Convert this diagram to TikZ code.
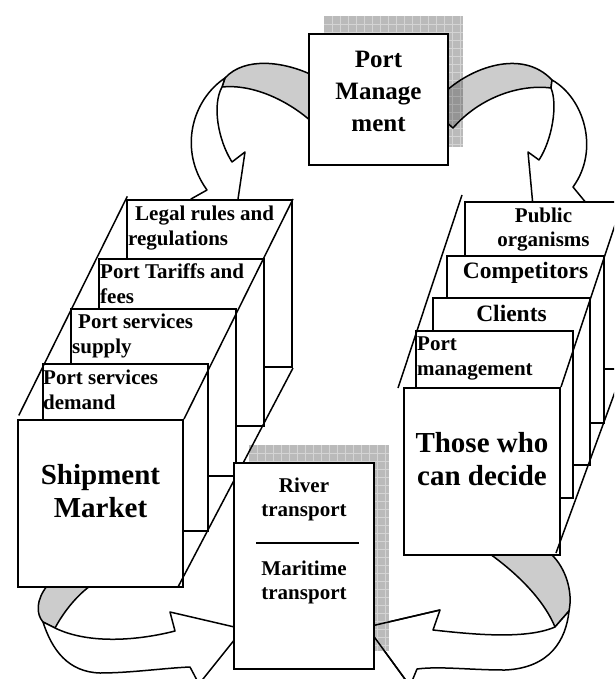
\documentclass[tikz,border=0pt]{standalone}
\usepackage{fontspec}
\setmainfont{Liberation Serif}
\usetikzlibrary{calc}

\newcommand*{\picw}{614}
\newcommand*{\pich}{679}

\newcommand*{\sheetfont}{\fontsize{21}{25}\selectfont\bfseries}
\newcommand*{\smallfont}{\fontsize{21}{24}\selectfont\bfseries}
\newcommand*{\midfont}{\fontsize{23.5}{28}\selectfont\bfseries}
\newcommand*{\pmfont}{\fontsize{25}{32}\selectfont\bfseries}
\newcommand*{\bigfont}{\fontsize{29}{33}\selectfont\bfseries}

\begin{document}
\begin{tikzpicture}
[
	x=1pt, y=-1pt,
	box/.style={draw, line width=2pt, fill=white, inner sep=0pt, anchor=north west},
	lsheet/.style={box, minimum width=165pt, minimum height=167pt},
	rsheet/.style={box, minimum width=157pt, minimum height=167pt},
	edge/.style={line width=1.5pt},
	ribbon/.style={draw, line width=1.5pt, fill=white, line join=round},
	band/.style={ribbon, fill=black!20},
	shade/.style={fill=black!27},
	gridline/.style={line width=0.6pt, black!17},
	txt/.style={inner sep=0pt, anchor=north, align=center},
	ltxt/.style={inner sep=0pt, anchor=north west, align=left, font=\sheetfont}
]

	% page
	\fill[white] (0,0) rectangle (\picw,\pich);
	\useasboundingbox (0,0) rectangle (\picw,\pich);
	\clip (0,0) rectangle (\picw,\pich);

	% shadow of the port management box
	\fill[shade] (324,16) rectangle (463,147);
	\foreach \x in {332,340,...,460} {
		\draw[gridline] (\x,16) -- (\x,147);
	}
	\foreach \y in {24,32,...,144} {
		\draw[gridline] (324,\y) -- (463,\y);
	}

	% curved arrows going down to both stacks
	\draw[band] (312,75) .. controls (285,62) and (245,56) .. (225,78) -- (222,87)
		.. controls (250,84) and (285,98) .. (312,122) -- cycle;
	\draw[ribbon] (225,78) .. controls (192,100) and (178,150) .. (207,190) -- (191,199)
		-- (234,226) -- (245,152) -- (232,162) .. controls (218,140) and (212,105) .. (222,87) -- cycle;

	\begin{scope}[blend mode=multiply]
		\draw[band] (444,93) .. controls (470,68) and (522,48) .. (552,80) -- (551,88)
			.. controls (520,84) and (480,97) .. (453,128) -- (444,120) -- cycle;
	\end{scope}
	\draw[ribbon] (552,80) .. controls (584,98) and (600,150) .. (573,187) -- (587,204)
		-- (535,228) -- (528,152) -- (539,160) .. controls (552,140) and (558,105) .. (551,88) -- cycle;

	% port management
	\node[box, minimum width=139pt, minimum height=131pt] (pm) at (308,33) {};
	\node[txt, font=\pmfont] (pmtxt) at ($(pm.north)+(0,11.6)$) {\strut Port\\\strut Manage\\\strut ment};

	% curved arrows coming back to the transport box
	\coordinate (setip) at (367,627);
	\coordinate (sebarb) at (440,610);
	\coordinate (selow) at (410,686);

	\draw[band] (47,586) .. controls (36,600) and (36,614) .. (43,622) -- (55,628)
		.. controls (62,615) and (74,598) .. (90,586) -- cycle;
	\draw[ribbon] (43,622) .. controls (52,650) and (68,672) .. (100,673)
		.. controls (130,673) and (165,668) .. (190,667) -- (199,684) -- (243,629) -- (170,612)
		-- (175,631) .. controls (140,640) and (90,645) .. (55,628) -- cycle;

	\draw[band] (490,554) .. controls (515,572) and (543,598) .. (555,627) -- (569,611)
		.. controls (573,592) and (566,568) .. (551,554) -- cycle;
	\draw[ribbon] (569,611) .. controls (566,640) and (550,668) .. (505,670)
		.. controls (470,670) and (440,666) .. (417,669) -- (selow) -- (setip) -- (sebarb)
		-- (433,630) .. controls (470,634) and (525,640) .. (555,627) -- cycle;

	% shadow of the transport box
	\fill[shade] (249,445) rectangle (389,651);
	\foreach \x in {257,265,...,385} {
		\draw[gridline] (\x,445) -- (\x,651);
	}
	\foreach \y in {453,461,...,645} {
		\draw[gridline] (249,\y) -- (389,\y);
	}
	\draw[edge] (sebarb) -- (setip) -- (selow);

	% left stack
	\node[lsheet] (legal) at (126,199) {};
	\node[ltxt] (legaltxt) at ($(legal.north west)+(2,3.5)$) {\strut\hspace*{7pt}Legal rules and\\\strut regulations};
	\node[lsheet] (tariffs) at (98,258) {};
	\node[ltxt] (tariffstxt) at ($(tariffs.north west)+(2,2.5)$) {\strut Port Tariffs and\\\strut fees};
	\node[lsheet] (supply) at (70,308) {};
	\node[ltxt] (supplytxt) at ($(supply.north west)+(2,2.5)$) {\strut\hspace*{6pt}Port services\\\strut supply};
	\node[lsheet] (demand) at (42,363) {};
	\node[ltxt] (demandtxt) at ($(demand.north west)+(1,3.5)$) {\strut Port services\\\strut demand};
	\node[lsheet] (shipment) at (17,419) {};
	\node[txt, font=\bigfont] (shipmenttxt) at ($(shipment.north)+(0,42)$) {\strut Shipment\\\strut Market};

	\draw[edge, shorten <=4pt, shorten >=-3pt] (shipment.north west) -- (legal.north west);
	\draw[edge] (legal.north east) -- (shipment.north east);
	\draw[edge] (legal.south east) -- ($(shipment.south east)+(-6,-1)$);

	% right stack
	\node[rsheet] (public) at (464,201) {};
	\node[txt, font=\smallfont] (publictxt) at ($(public.north)+(0,4.2)$) {\strut Public\\\strut organisms};
	\node[rsheet] (competitors) at (446,255) {};
	\node[txt, font=\midfont] (competitorstxt) at ($(competitors.north)+(0,3.4)$) {\strut Competitors};
	\node[rsheet] (clients) at (432,297) {};
	\node[txt, font=\midfont] (clientstxt) at ($(clients.north)+(0,4.4)$) {\strut Clients};
	\node[rsheet] (portmgmt) at (415,330) {};
	\node[ltxt] (portmgmttxt) at ($(portmgmt.north west)+(2,2.5)$) {\strut Port\\\strut management};
	\node[rsheet, minimum width=156pt] (decide) at (403,387) {};
	\node[txt, font=\bigfont] (decidetxt) at ($(decide.north)+(0,42)$) {\strut Those who\\\strut can decide};

	\draw[edge] ($(decide.north west)+(-5,1)$) -- ($(public.north west)+(-2,-6)$);
	\draw[edge] (public.north east) -- (decide.north east);
	\draw[edge] (public.south east) -- ($(decide.south east)+(-5,-3)$);

	% transport box
	\node[box, minimum width=140pt, minimum height=206pt] (transport) at (233,462) {};
	\node[txt, font=\smallfont] (rivertxt) at ($(transport.north)+(0,13.2)$) {\strut River\\\strut transport};
	\draw[line width=1.5pt] ($(transport.north west)+(23,81)$) -- ($(transport.north east)+(-16,81)$);
	\node[txt, font=\smallfont] (maritimetxt) at ($(transport.north)+(0,96.2)$) {\strut Maritime\\\strut transport};

\end{tikzpicture}
\end{document}
